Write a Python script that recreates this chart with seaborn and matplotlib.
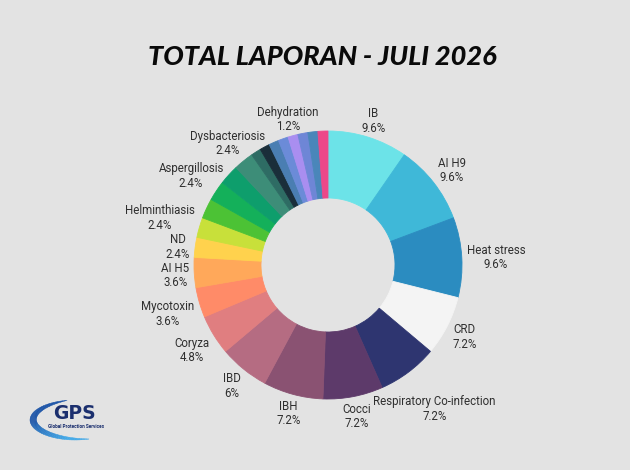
import numpy as np
import pandas as pd
import matplotlib
matplotlib.use("Agg")
import matplotlib.pyplot as plt
from matplotlib.patches import Polygon
from matplotlib.colors import to_rgb
import seaborn as sns

# ---------------- data ----------------
categories = ["IB", "AI H9", "Heat stress", "CRD", "Respiratory Co-infection",
              "Cocci", "IBH", "IBD", "Coryza", "Mycotoxin", "AI H5", "ND",
              "Helminthiasis", "", "Aspergillosis", "", "Dysbacteriosis",
              "", "", "", "", "Dehydration", "", "", ""]
counts = [8, 8, 8, 6, 6, 6, 6, 5, 4, 3, 3, 2, 2, 2, 2, 2, 2, 1, 1, 1, 1, 1, 1, 1, 1]
colors = ["#6CE3E8", "#3FB8D8", "#2B8CC0", "#F4F4F4", "#2E3570", "#5D3A6A",
          "#8A5272", "#B56C82", "#E07E80", "#FF8B68", "#FFA85A", "#FFD24D",
          "#C8E03A", "#4CC235", "#14B05A", "#0E9E6C", "#3D8D78", "#2E6C64",
          "#1A2E3A", "#4A7EB2", "#6B8BD8", "#A98EF0", "#6E86D6", "#4A86BA",
          "#EC4889"]
title = "TOTAL LAPORAN - JULI 2026"
logo_main = "GPS"
logo_sub = "Global Protection Services"

BG = "#E3E3E3"

sns.set_theme(style="white")
plt.rcParams["font.family"] = ["Roboto", "DejaVu Sans"]

df = pd.DataFrame({"category": categories, "count": counts, "color": colors})
total = df["count"].sum()
df["pct"] = df["count"] / total * 100


def fmt_pct(p):
    s = f"{p:.1f}"
    if s.endswith(".0"):
        s = s[:-2]
    return s + "%"


W, H = 630, 470
fig = plt.figure(figsize=(W / 100, H / 100), dpi=100, facecolor=BG)

# donut geometry (pixels)
CX, CY, R = 328, 265, 134
ax = fig.add_axes([(CX - R) / W, (H - CY - R) / H, 2 * R / W, 2 * R / H])
ax.set_facecolor("none")
wedges, _ = ax.pie(df["count"], colors=df["color"], startangle=90,
                   counterclock=False, radius=1,
                   wedgeprops=dict(width=0.5, linewidth=0.6))
for w in wedges:
    w.set_edgecolor(w.get_facecolor())
ax.set_xlim(-1, 1)
ax.set_ylim(-1, 1)
ax.set_aspect("equal")
ax.axis("off")

# labels
cum = df["count"].cumsum().to_numpy()
mid_deg = (cum - df["count"].to_numpy() / 2) / total * 360.0
FS = 8.3
TXT = "#2F2F2F"

texts, lines = {}, {}
for i, row in df.iterrows():
    if row["category"]:
        l1, l2 = row["category"], fmt_pct(row["pct"])
        lines[i] = (l1, l2)
        texts[i] = ax.text(0, 0, f"{l1}\n{l2}", ha="center", va="center",
                           multialignment="center", fontsize=FS, color=TXT,
                           linespacing=1.15)

fig.canvas.draw()
renderer = fig.canvas.get_renderer()


def line_width(s):
    tmp = ax.text(0, 0, s, fontsize=FS)
    wd = tmp.get_window_extent(renderer).width
    tmp.remove()
    return wd


R0 = 139.0     # distance of the box edge (along the ray) from the centre
RMIN = 138.0   # no line of text may come closer than this to the centre
YBIAS = -2.0   # compensate matplotlib's descent padding (px)


def box_dist(cx, cy, hw, hh):
    return np.hypot(max(abs(cx) - hw, 0), max(abs(cy) - hh, 0))


for i, t in texts.items():
    bb = t.get_window_extent(renderer)
    w1, w2 = line_width(lines[i][0]), line_width(lines[i][1])
    hh = bb.height * 0.86 / 2
    hw = max(w1, w2) / 2
    th = np.radians(mid_deg[i])
    ux, uy = np.sin(th), np.cos(th)
    cand = []
    if abs(ux) > 1e-9:
        cand.append(hw / abs(ux))
    if abs(uy) > 1e-9:
        cand.append(hh / abs(uy))
    dist = R0 + min(cand)

    def min_line_dist(d):
        cx, cy = d * ux, d * uy
        hl = hh
        return min(box_dist(cx, cy + hl / 2, w1 / 2, hl / 2),
                   box_dist(cx, cy - hl / 2, w2 / 2, hl / 2))

    while min_line_dist(dist) < RMIN:
        dist += 0.5
    t.set_position((dist * ux / R, (dist * uy + YBIAS) / R))

# title
fig.text(322 / W, 1 - 57 / H, title, ha="center", va="center", fontsize=19.5,
         fontweight="black", fontstyle="italic", family=["Lato", "DejaVu Sans"],
         color="#0A0A0A")

# logo (decorative)
lax = fig.add_axes([0, 0, 1, 1])
lax.set_xlim(0, W)
lax.set_ylim(H, 0)
lax.axis("off")
lax.patch.set_alpha(0)
ex, ey, ea, eb = 75, 420, 45, 20
th0, th1 = 100, 288
c_dark, c_light = np.array(to_rgb("#1D55A8")), np.array(to_rgb("#45AAE8"))
nseg = 60
angs = np.linspace(th0, th1, nseg + 1)
for k in range(nseg):
    a0, a1 = angs[k], angs[k + 1]
    pts_o, pts_i = [], []
    for a in (a0, a1):
        f = (a - th0) / (th1 - th0)
        thick = 6.5 * np.sin(np.pi * f) ** 0.8
        r = np.radians(a)
        pts_o.append((ex + ea * np.cos(r), ey - eb * np.sin(r)))
        pts_i.append((ex + (ea - thick) * np.cos(r), ey - (eb - thick * 0.8) * np.sin(r)))
    f = (0.5 * (a0 + a1) - th0) / (th1 - th0)
    mix = np.clip((f - 0.45) / 0.4, 0, 1)
    col = c_dark * (1 - mix) + c_light * mix
    lax.add_patch(Polygon(pts_o + pts_i[::-1], closed=True, facecolor=col,
                          edgecolor=col, linewidth=0.3))
lax.text(74, 413.5, logo_main, ha="center", va="center", fontsize=13.5,
         fontweight="bold", family=["DejaVu Sans"], color="#1B2F6E")
lax.text(76, 426, logo_sub, ha="center", va="center", fontsize=3.4,
         fontweight="bold", color="#1B2F6E")

fig.savefig("out.png", dpi=100, facecolor=BG)
